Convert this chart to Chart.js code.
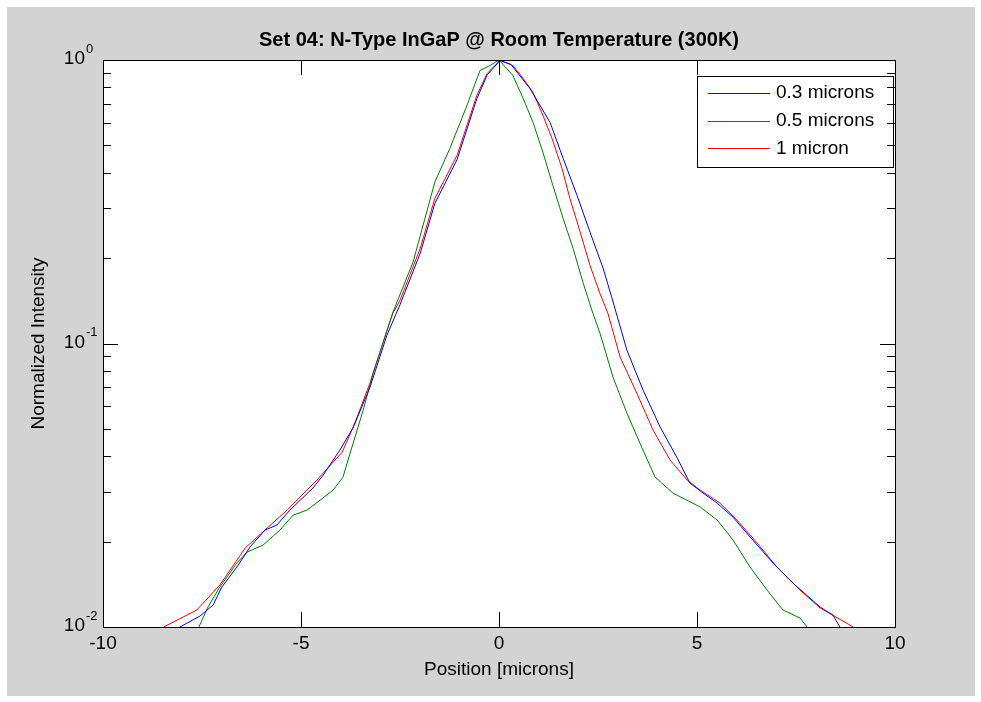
<!DOCTYPE html>
<html>
<head>
<meta charset="utf-8">
<script src="https://cdn.jsdelivr.net/npm/chart.js@4/dist/chart.umd.min.js"></script>
<style>
  html, body { margin: 0; padding: 0; background: #fff; }
  canvas { display: block; }
</style>
</head>
<body>
<canvas id="profileChart" width="981" height="702"></canvas>
<script>
const FONT = '"Liberation Sans", Arial, sans-serif'

const xTicks = [-10, -5, 0, 5, 10]
const yDecades = [1, 0.1, 0.01]
const yExponents = ['0', '-1', '-2']

const seriesLabels = ['0.3 microns', '0.5 microns', '1 micron']
const seriesColors = ['#0000ff', '#008000', '#ff0000']

// 0.3 microns
const x03 = [-8.06, -7.55, -7.22, -7.0, -6.62, -6.29, -5.91, -5.61, -5.28, -4.70, -4.44, -4.02, -3.69,
  -3.26, -2.83, -2.50, -1.99, -1.62, -1.06, -0.56, -0.30, -0.03, 0, 0.30, 0.78, 1.29, 1.62, 1.97, 2.30,
  2.63, 2.85, 3.23, 3.64, 4.07, 4.49, 4.82, 5.15, 5.51, 5.91, 6.41, 6.92, 7.42, 8.11, 8.43, 8.61]
const y03 = [0.0100, 0.01093, 0.01195, 0.01383, 0.01627, 0.01913, 0.02198, 0.02288, 0.02584, 0.0309, 0.03433, 0.04205, 0.05027,
  0.0700, 0.107, 0.137, 0.208, 0.312, 0.445, 0.73, 0.885, 0.975, 1.0, 0.965, 0.794, 0.602, 0.4497, 0.333, 0.2466,
  0.1841, 0.145, 0.0947, 0.0684, 0.0507, 0.0397, 0.0322, 0.0297, 0.02735, 0.0244, 0.02026, 0.01681, 0.01429, 0.01176, 0.01102, 0.0100]

// 0.5 microns
const x05 = [-7.58, -7.35, -7.05, -6.62, -6.36, -5.96, -5.53, -5.20, -4.85, -4.52, -4.19, -3.94, -3.76, -3.43, -3.18,
  -2.93, -2.68, -2.17, -1.62, -1.24, -0.81, -0.48, -0.23, 0, 0.35, 0.61, 0.86, 1.11, 1.36, 1.62, 1.87, 2.12, 2.37,
  2.55, 2.88, 3.23, 3.56, 3.94, 4.39, 5.08, 5.51, 5.91, 6.34, 6.77, 7.17, 7.60, 7.78]
const y05 = [0.0100, 0.01176, 0.01383, 0.01681, 0.01838, 0.01945, 0.02198, 0.02481, 0.02584, 0.0280, 0.0304, 0.03378, 0.04103, 0.0582, 0.0785,
  0.1002, 0.1288, 0.1938, 0.371, 0.488, 0.691, 0.918, 0.956, 1.0, 0.882, 0.732, 0.602, 0.472, 0.361, 0.276, 0.2166, 0.1644, 0.1278,
  0.1087, 0.076, 0.0568, 0.0445, 0.0338, 0.0297, 0.0265, 0.02383, 0.02026, 0.01627, 0.0135, 0.01148, 0.01076, 0.0100]

// 1 micron
const x1 = [-8.47, -7.63, -7.05, -6.41, -5.91, -5.35, -4.60, -3.96, -3.64, -3.26, -2.83, -2.68, -2.50, -1.99, -1.62,
  -1.06, -0.56, -0.30, -0.03, 0, 0.35, 0.61, 0.86, 1.11, 1.34, 1.59, 1.79, 2.05, 2.30, 2.55, 2.75, 3.06, 3.48,
  3.89, 4.32, 4.75, 5.08, 5.58, 6.01, 6.52, 7.02, 7.60, 8.11, 8.86, 8.94]
const y1 = [0.0100, 0.01148, 0.01406, 0.01899, 0.02198, 0.02584, 0.03297, 0.04136, 0.0524, 0.0724, 0.1113, 0.1278, 0.1421, 0.2166, 0.325,
  0.4606, 0.75, 0.896, 0.98, 1.0, 0.956, 0.861, 0.768, 0.637, 0.528, 0.415, 0.325, 0.247, 0.188, 0.150, 0.1278, 0.0894, 0.0668,
  0.0495, 0.0388, 0.033, 0.0304, 0.02735, 0.02383, 0.01977, 0.01627, 0.0135, 0.01167, 0.01016, 0.0100]

const seriesX = [x03, x05, x1]
const seriesY = [y03, y05, y1]

const datasets = seriesLabels.map((label, i) => ({
  label: label,
  data: seriesX[i].map((x, j) => ({ x: x, y: seriesY[i][j] })),
  borderColor: seriesColors[i],
  borderWidth: 1,
  pointRadius: 0,
  tension: 0,
  fill: false
}))

// figure background, axes box, ticks, decade labels, title, legend
const matlabFrame = {
  id: 'matlabFrame',
  beforeDraw(chart) {
    const ctx = chart.ctx
    const a = chart.chartArea
    ctx.save()
    ctx.fillStyle = '#ffffff'
    ctx.fillRect(0, 0, chart.width, chart.height)
    ctx.fillStyle = '#d3d3d3'
    ctx.fillRect(7, 7, 968, 689)
    ctx.fillStyle = '#ffffff'
    ctx.fillRect(a.left, a.top, a.right - a.left, a.bottom - a.top)
    ctx.restore()
  },
  afterDatasetsDraw(chart) {
    const ctx = chart.ctx
    const a = chart.chartArea
    const xs = chart.scales.x
    const ys = chart.scales.y
    ctx.save()

    // legend
    const lx = 697, ly = 76, lw = 196, lh = 91
    ctx.fillStyle = '#ffffff'
    ctx.fillRect(lx, ly, lw, lh)
    ctx.strokeStyle = '#000000'
    ctx.lineWidth = 1
    ctx.strokeRect(lx + 0.5, ly + 0.5, lw, lh)
    ctx.font = '19px ' + FONT
    ctx.textBaseline = 'middle'
    ctx.textAlign = 'left'
    chart.data.datasets.forEach((ds, i) => {
      const ry = 93 + i * 27.7
      ctx.strokeStyle = ds.borderColor
      ctx.beginPath()
      ctx.moveTo(708, Math.round(ry) + 0.5)
      ctx.lineTo(770, Math.round(ry) + 0.5)
      ctx.stroke()
      ctx.fillStyle = '#000000'
      ctx.fillText(ds.label, 776, ry)
    })

    // axes box
    ctx.strokeStyle = '#000000'
    ctx.lineWidth = 1
    ctx.strokeRect(a.left + 0.5, a.top + 0.5, a.right - a.left, a.bottom - a.top)

    // x ticks (inside, bottom and top)
    ctx.beginPath()
    xTicks.forEach(v => {
      const px = Math.round(xs.getPixelForValue(v)) + 0.5
      ctx.moveTo(px, a.bottom)
      ctx.lineTo(px, a.bottom - 15)
      ctx.moveTo(px, a.top)
      ctx.lineTo(px, a.top + 15)
    })
    // y ticks, major and minor (inside, left and right)
    ;[0.01, 0.1].forEach(dec => {
      for (let m = 1; m <= 9; m++) {
        const v = dec * m
        const py = Math.round(ys.getPixelForValue(v)) + 0.5
        const len = m === 1 ? 15 : 8
        ctx.moveTo(a.left, py)
        ctx.lineTo(a.left + len, py)
        ctx.moveTo(a.right, py)
        ctx.lineTo(a.right - len, py)
      }
    })
    ctx.stroke()

    // decade labels 10^n
    ctx.fillStyle = '#000000'
    yDecades.forEach((v, i) => {
      const py = ys.getPixelForValue(v)
      ctx.font = '19px ' + FONT
      ctx.textAlign = 'right'
      ctx.textBaseline = 'middle'
      ctx.fillText('10', 85, py - 1)
      ctx.font = '13px ' + FONT
      ctx.textAlign = 'left'
      ctx.fillText(yExponents[i], 86, py - 11)
    })

    // title
    ctx.font = 'bold 20px ' + FONT
    ctx.textAlign = 'center'
    ctx.textBaseline = 'middle'
    ctx.fillText('Set 04: N-Type InGaP @ Room Temperature (300K)', (a.left + a.right) / 2, 40)

    ctx.restore()
  }
}

const profileChart = new Chart(document.getElementById('profileChart'), {
  type: 'line',
  data: { datasets: datasets },
  options: {
    responsive: false,
    animation: false,
    devicePixelRatio: 1,
    layout: { padding: { left: 0, top: 60, right: 86, bottom: 0 } },
    plugins: {
      legend: { display: false },
      tooltip: { enabled: false },
      title: { display: false }
    },
    scales: {
      x: {
        type: 'linear',
        min: -10,
        max: 10,
        afterFit(scale) { scale.height = 75 },
        afterBuildTicks(scale) { scale.ticks = xTicks.map(v => ({ value: v })) },
        ticks: { color: '#000', font: { family: FONT, size: 19 }, padding: 5, maxRotation: 0 },
        grid: { display: false, drawTicks: false },
        border: { display: false },
        title: {
          display: true,
          text: 'Position [microns]',
          color: '#000',
          font: { family: FONT, size: 19 },
          padding: { top: 0, bottom: 21 }
        }
      },
      y: {
        type: 'logarithmic',
        min: 0.01,
        max: 1,
        afterFit(scale) { scale.width = 103 },
        ticks: { display: false },
        grid: { display: false, drawTicks: false },
        border: { display: false },
        title: {
          display: true,
          text: 'Normalized Intensity',
          color: '#000',
          font: { family: FONT, size: 19 },
          padding: { top: 27, bottom: 0 }
        }
      }
    }
  },
  plugins: [matlabFrame]
})
</script>
</body>
</html>
